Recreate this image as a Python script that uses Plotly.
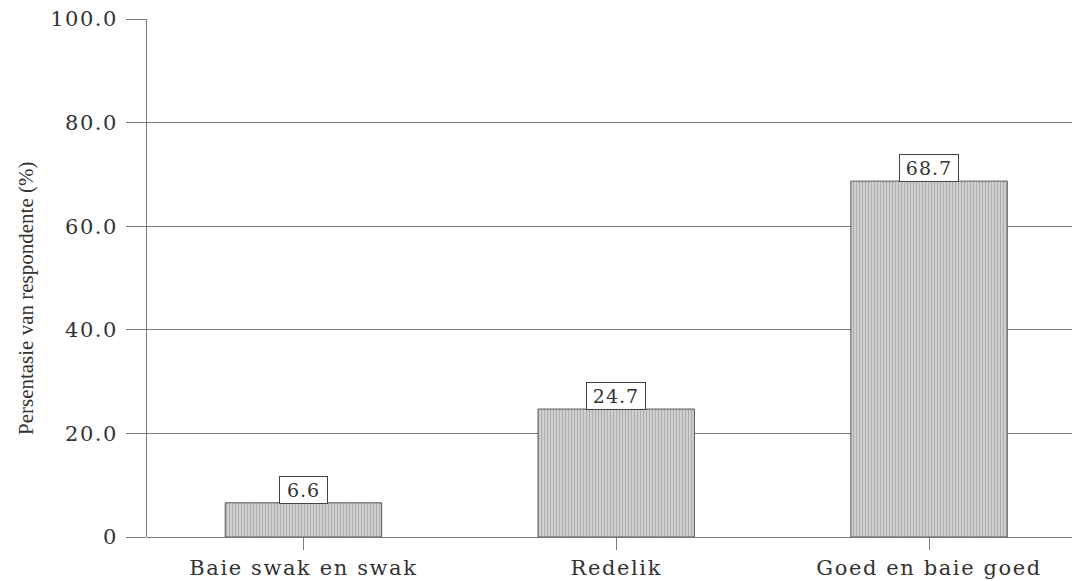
import plotly.graph_objects as go

categories = ["Baie swak en swak", "Redelik", "Goed en baie goed"]
values = [6.6, 24.7, 68.7]
tick_vals = [0, 20, 40, 60, 80, 100]
tick_text = ["0", "20.0", "40.0", "60.0", "80.0", "100.0"]
y_title = "Persentasie van respondente (%)"

grid_col = "#7a7a7a"
text_col = "#333333"
serif = "DejaVu Serif"


def spaced(s, px):
    return f'<span style="letter-spacing:{px}px">{s}</span>'


fig = go.Figure()
fig.add_trace(go.Bar(
    x=list(range(len(categories))),
    y=values,
    width=0.5,
    marker=dict(
        color="#c4c4c4",
        line=dict(color="#555555", width=1),
        pattern=dict(shape="|", fgcolor="#8c8c8c", bgcolor="#cfcfcf", size=3, solidity=0.35),
    ),
    showlegend=False,
    hoverinfo="skip",
))

for i, v in enumerate(values):
    label = f"{v:.1f}"
    fig.add_annotation(
        x=i, y=v, xref="x", yref="y",
        text=spaced(label, 1),
        showarrow=False,
        yanchor="bottom",
        yshift=-1,
        font=dict(family=serif, size=19, color=text_col),
        bgcolor="white",
        bordercolor="#444444",
        borderwidth=1,
        borderpad=2,
        width=11 * len(label) + 10,
    )

# vertical axis title, placed slightly below the middle of the plot area
fig.add_annotation(
    x=-0.131, y=0.461, xref="paper", yref="paper",
    text=y_title, textangle=-90, showarrow=False,
    xanchor="center", yanchor="middle",
    font=dict(family="Liberation Serif", size=21, color=text_col),
)

fig.update_layout(
    width=1072, height=581,
    margin=dict(l=147, r=0, t=19, b=44),
    paper_bgcolor="white",
    plot_bgcolor="white",
    xaxis=dict(
        range=[-0.5, 2.457],
        tickvals=list(range(len(categories))),
        ticktext=[spaced(c, 1.6) for c in categories],
        ticks="outside", ticklen=12, tickcolor=grid_col, tickwidth=1,
        showgrid=False, zeroline=False, showline=False,
        tickfont=dict(family=serif, size=21, color=text_col),
    ),
    yaxis=dict(
        range=[0, 100],
        tickvals=tick_vals,
        ticktext=[spaced(t, 1.5) for t in tick_text],
        ticks="outside", ticklen=20, tickcolor=grid_col, tickwidth=1,
        ticklabelstandoff=4,
        showgrid=True, gridcolor=grid_col, gridwidth=1,
        zeroline=True, zerolinecolor=grid_col, zerolinewidth=1,
        showline=True, linecolor=grid_col, linewidth=1,
        tickfont=dict(family=serif, size=21, color=text_col),
    ),
)

fig.write_html("out.html")
